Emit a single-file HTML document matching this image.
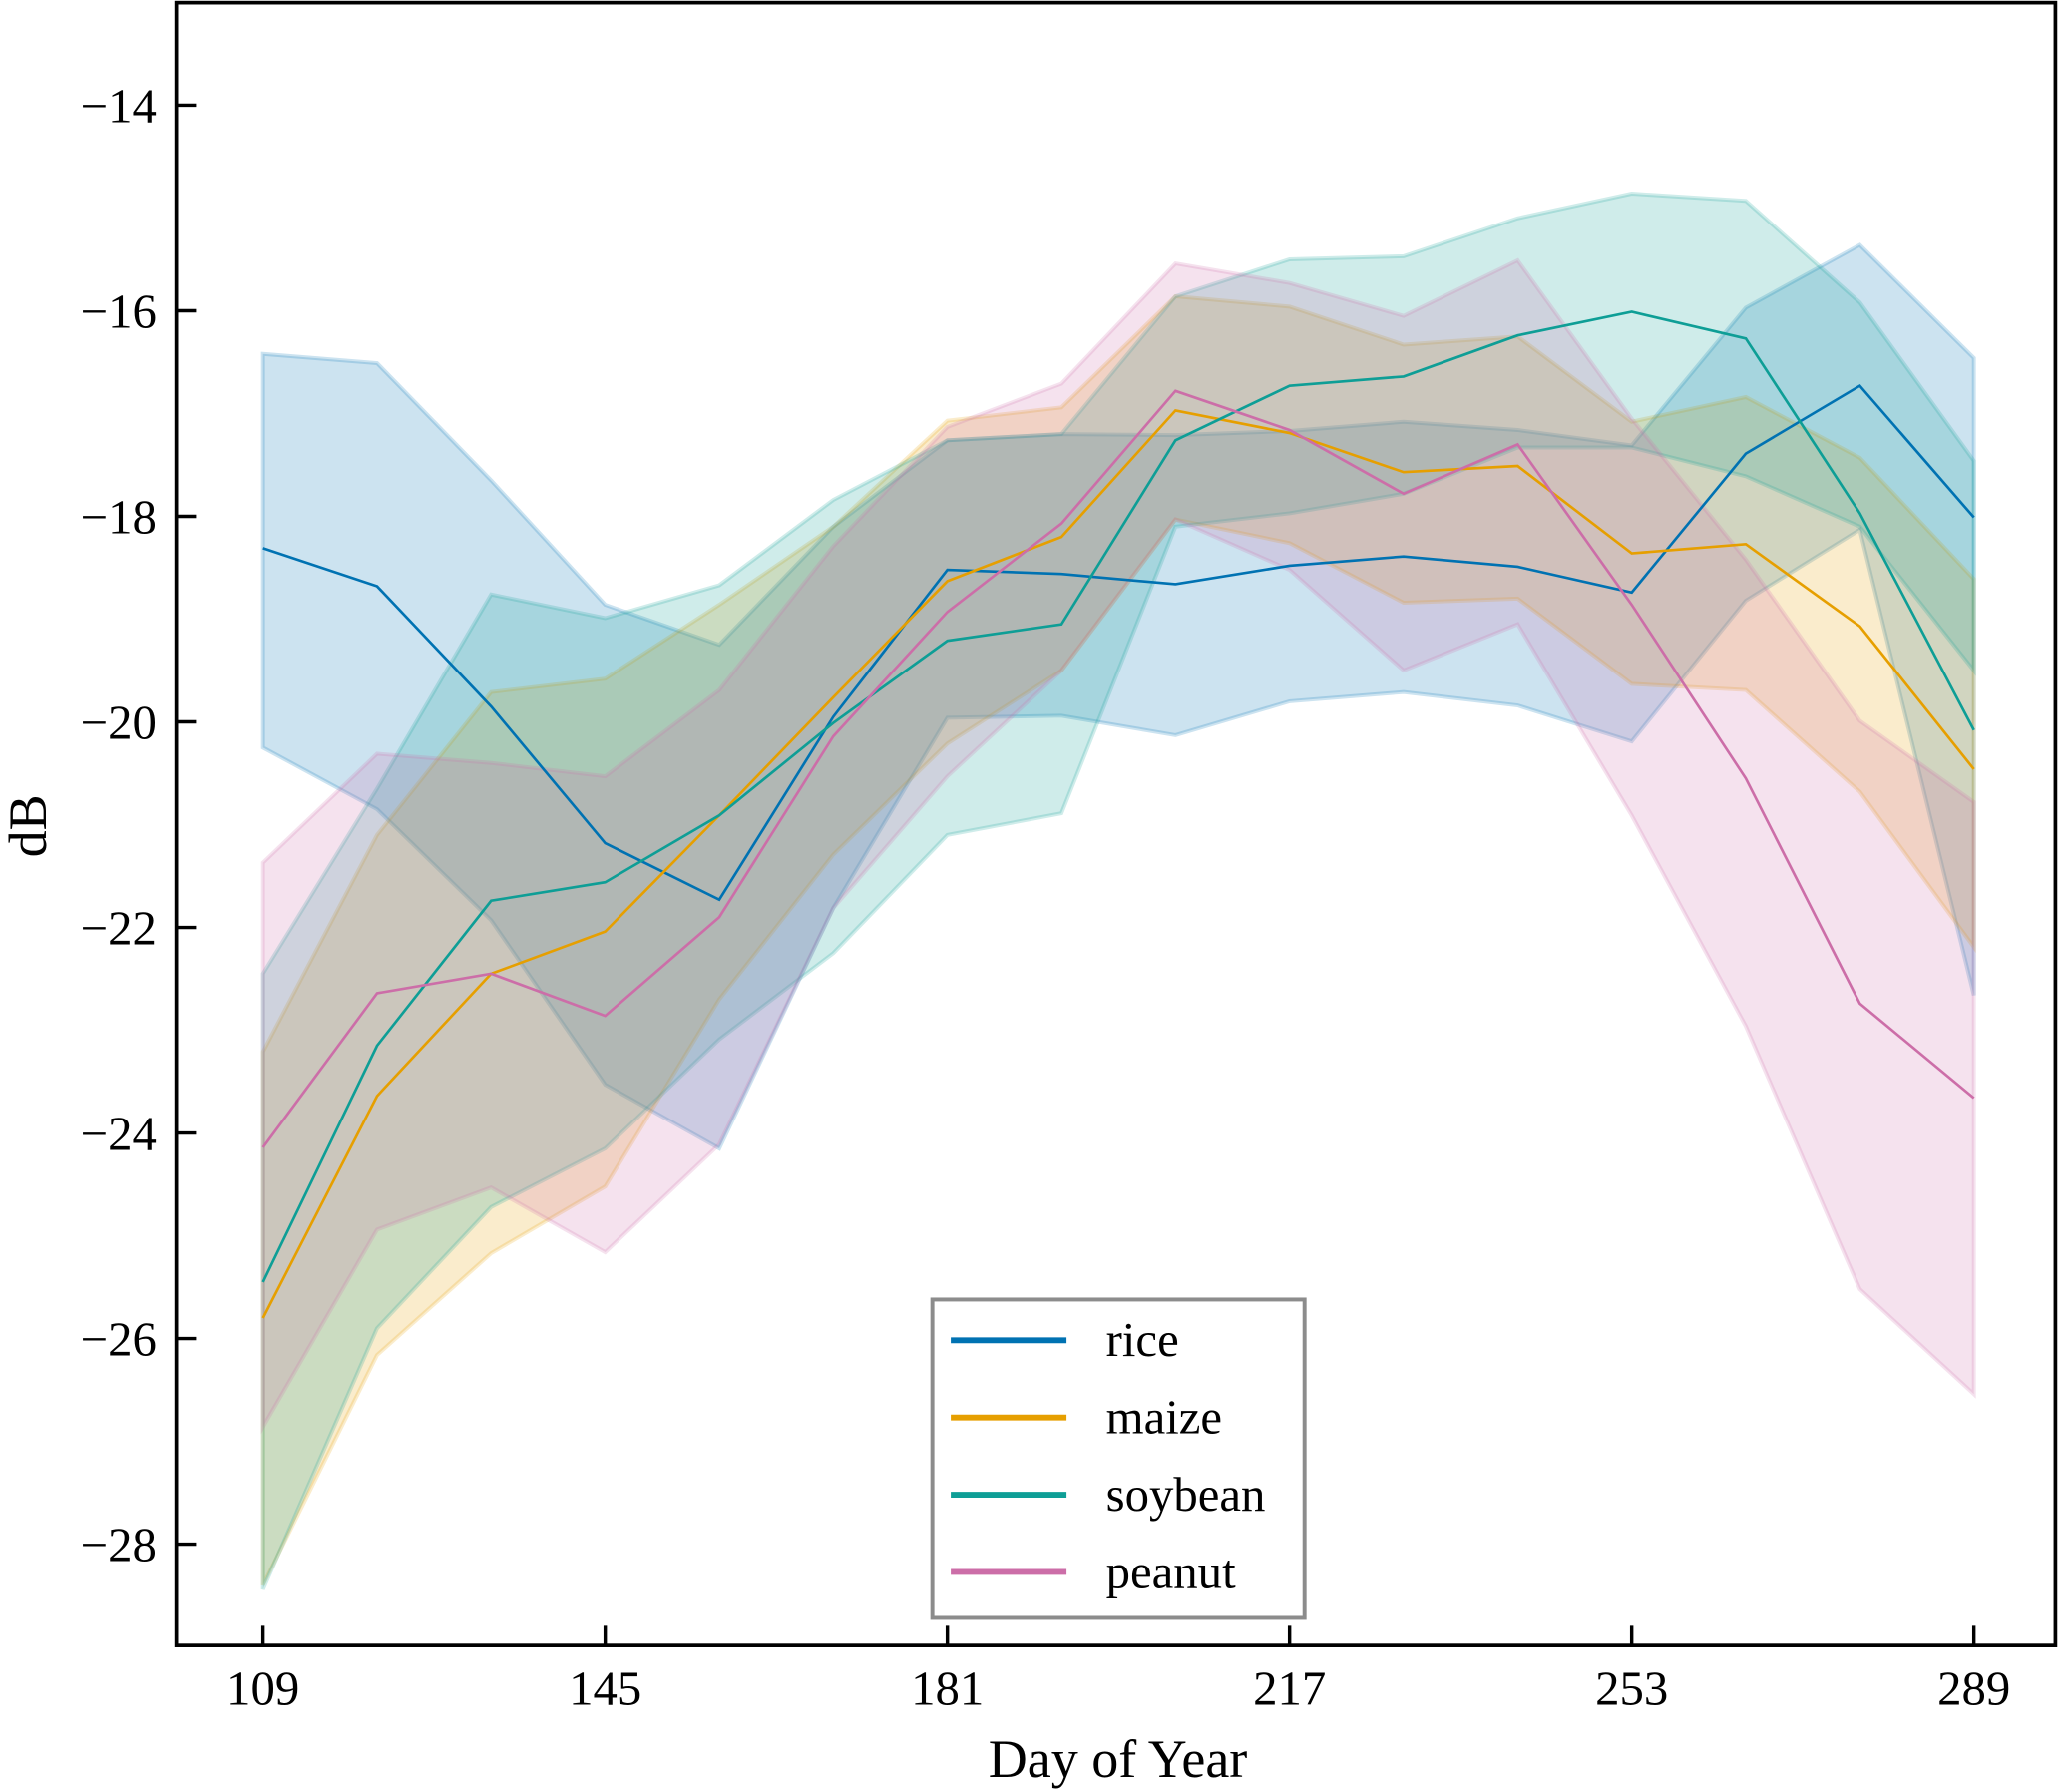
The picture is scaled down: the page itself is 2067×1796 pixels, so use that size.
<!DOCTYPE html>
<html><head><meta charset="utf-8"><style>
body{margin:0;background:#fff}
svg{display:block;font-family:"Liberation Serif",serif}
</style></head><body>
<svg id="chart" width="2067" height="1796" viewBox="0 0 1568 1362.4" preserveAspectRatio="none" xmlns="http://www.w3.org/2000/svg">
<g id="bands"></g><g id="lines"></g><g id="axes"></g>
</svg>
<script>
const days=[109,121,133,145,157,169,181,193,205,217,229,241,253,265,277,289];
const riceMean=[-18.31,-18.68,-19.85,-21.18,-21.73,-19.95,-18.52,-18.56,-18.66,-18.48,-18.39,-18.49,-18.74,-17.39,-16.73,-18.01];
const riceUpper=[-16.42,-16.51,-17.65,-18.86,-19.25,-18.10,-17.26,-17.20,-17.21,-17.17,-17.08,-17.16,-17.31,-15.97,-15.36,-16.46];
const riceLower=[-20.25,-20.85,-21.93,-23.53,-24.15,-21.81,-19.96,-19.94,-20.13,-19.80,-19.71,-19.84,-20.19,-18.82,-18.13,-22.66];
const maizeMean=[-25.80,-23.64,-22.45,-22.04,-20.91,-19.76,-18.63,-18.20,-16.97,-17.19,-17.57,-17.51,-18.36,-18.27,-19.07,-20.46];
const maizeUpper=[-23.21,-21.10,-19.71,-19.58,-18.86,-18.10,-17.07,-16.94,-15.86,-15.96,-16.33,-16.25,-17.08,-16.84,-17.43,-18.61];
const maizeLower=[-28.40,-26.16,-25.17,-24.52,-22.70,-21.29,-20.21,-19.50,-18.03,-18.26,-18.84,-18.80,-19.63,-19.69,-20.68,-22.19];
const soyMean=[-25.45,-23.15,-21.74,-21.56,-20.91,-20.01,-19.21,-19.05,-17.26,-16.73,-16.64,-16.24,-16.01,-16.27,-17.97,-20.08];
const soyUpper=[-22.45,-20.65,-18.76,-18.99,-18.67,-17.84,-17.26,-17.20,-15.86,-15.50,-15.47,-15.10,-14.86,-14.93,-15.92,-17.46];
const soyLower=[-28.44,-25.90,-24.72,-24.15,-23.09,-22.25,-21.10,-20.89,-18.10,-17.97,-17.78,-17.33,-17.33,-17.61,-18.10,-19.50];
const peanutMean=[-24.14,-22.64,-22.45,-22.86,-21.90,-20.14,-18.93,-18.07,-16.78,-17.16,-17.78,-17.30,-18.86,-20.55,-22.74,-23.66];
const peanutUpper=[-21.37,-20.31,-20.40,-20.53,-19.69,-18.29,-17.13,-16.71,-15.54,-15.73,-16.05,-15.51,-17.05,-18.42,-19.99,-20.78];
const peanutLower=[-26.86,-24.94,-24.53,-25.16,-24.11,-21.81,-20.53,-19.50,-18.03,-18.52,-19.50,-19.05,-20.91,-22.96,-25.52,-26.54];
const xTicks=[109,145,181,217,253,289];
const yTicks=[-14,-16,-18,-20,-22,-24,-26,-28];
const seriesNames=["rice","maize","soybean","peanut"];
const colors=["#0072b2","#e69f00","#0e9e96","#cc6ea8"];

const NS="http://www.w3.org/2000/svg";
const X=d=>200+(d-109)*(1301/180);
const Y=v=>80+(-14-v)*78.14;
const L=134,R=1563,T=2,B=1251;
function mk(tag,attrs,parent,text){const e=document.createElementNS(NS,tag);for(const k in attrs)e.setAttribute(k,attrs[k]);if(text!==undefined)e.textContent=text;parent.appendChild(e);return e;}
const bands=document.getElementById('bands'),lines=document.getElementById('lines'),axes=document.getElementById('axes');
const data=[[riceMean,riceUpper,riceLower],[maizeMean,maizeUpper,maizeLower],[soyMean,soyUpper,soyLower],[peanutMean,peanutUpper,peanutLower]];
data.forEach((s,i)=>{
  const up=s[1].map((v,j)=>X(days[j])+','+Y(v));
  const lo=s[2].map((v,j)=>X(days[j])+','+Y(v)).reverse();
  const p=mk('polygon',{points:up.concat(lo).join(' '),fill:colors[i],'fill-opacity':0.2,stroke:colors[i],'stroke-opacity':0.2,'stroke-width':3},bands);
  
  
  const l=mk('polyline',{points:s[0].map((v,j)=>X(days[j])+','+Y(v)).join(' '),fill:'none',stroke:colors[i],'stroke-width':2},lines);
  
  
});
const fr=mk('rect',{x:L,y:T,width:R-L,height:B-T,fill:'none',stroke:'#000','stroke-width':2.8},axes);


xTicks.forEach(t=>{
  mk('line',{x1:X(t),x2:X(t),y1:B,y2:B-15,stroke:'#000','stroke-width':2.6},axes);
  const tx=mk('text',{x:X(t),y:1296,'font-size':37,'text-anchor':'middle'},axes,String(t));
  
  
});
yTicks.forEach(t=>{
  mk('line',{x1:L,x2:L+15,y1:Y(t),y2:Y(t),stroke:'#000','stroke-width':2.6},axes);
  const tx=mk('text',{x:119,y:Y(t)+13,'font-size':37,'text-anchor':'end'},axes,'\u2212'+Math.abs(t));
  
  
});
const xt=mk('text',{x:850,y:1351,'font-size':41,'text-anchor':'middle'},axes,'Day of Year');


const yt=mk('text',{x:0,y:0,'font-size':41,'text-anchor':'middle',transform:'translate(35,628) rotate(-90)'},axes,'dB');


const lg=mk('g',{},axes);


mk('rect',{x:709,y:988,width:283,height:242,fill:'#fff',stroke:'#8c8c8c','stroke-width':3},lg);
seriesNames.forEach((n,i)=>{
  const yy=1019+i*58.7;
  const e=mk('g',{},lg);
  
  
  mk('line',{x1:723,x2:811,y1:yy,y2:yy,stroke:colors[i],'stroke-width':4.5},e);
  mk('text',{x:841,y:yy+12,'font-size':37},e,n);
});
</script>
</body></html>
